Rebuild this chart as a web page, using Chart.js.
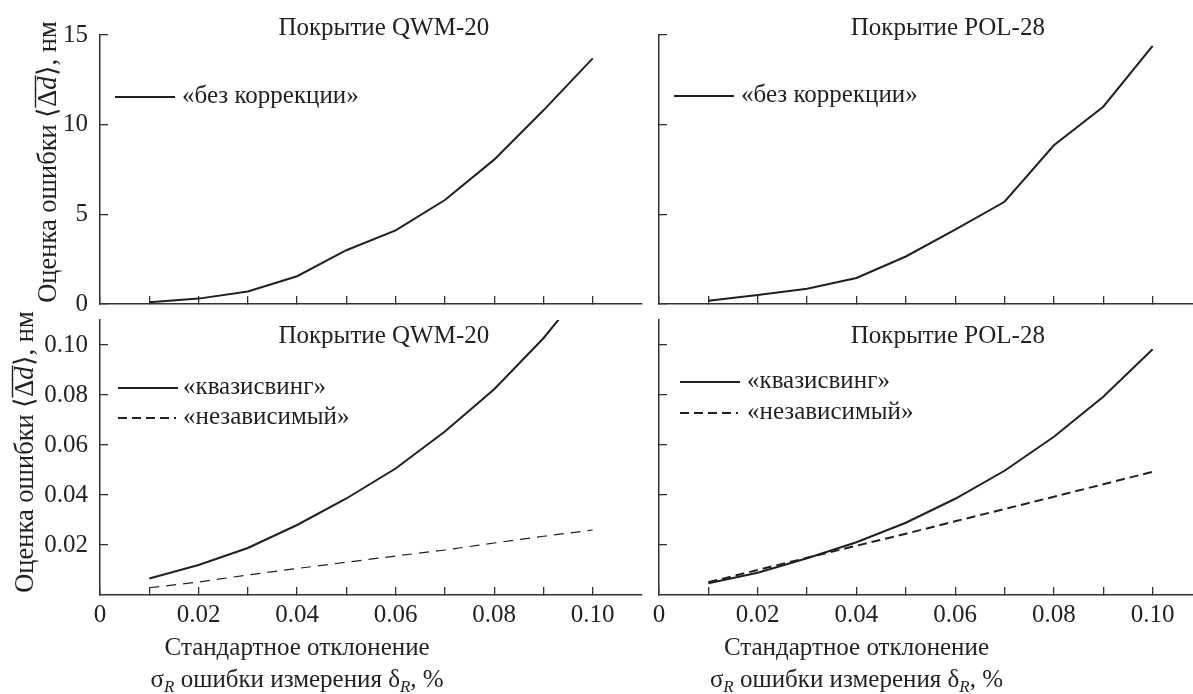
<!DOCTYPE html>
<html>
<head>
<meta charset="utf-8">
<script src="https://cdn.jsdelivr.net/npm/chart.js@4.4.1/dist/chart.umd.min.js"></script>
<style>
  html, body { margin: 0; padding: 0; background: #fff; overflow: hidden; width: 1193px; height: 694px; }
  canvas { position: absolute; left: 0; top: 0; }
</style>
</head>
<body>
<canvas id="tl" width="1210" height="694"></canvas>
<canvas id="tr" width="1210" height="694"></canvas>
<canvas id="bl" width="1210" height="694"></canvas>
<canvas id="br" width="1210" height="694"></canvas>
<script>
// --- dati ---
const sigma = [0.01, 0.02, 0.03, 0.04, 0.05, 0.06, 0.07, 0.08, 0.09, 0.10];

const qwmNoCorr = [0.1, 0.3, 0.7, 1.55, 3.0, 4.1, 5.8, 8.05, 10.8, 13.7];
const polNoCorr = [0.18, 0.5, 0.85, 1.45, 2.65, 4.15, 5.7, 8.85, 11.0, 14.4];

const qwmQuasi = [0.0066, 0.0120, 0.0188, 0.0280, 0.0386, 0.0506, 0.0654, 0.0823, 0.1027, 0.1270];
const qwmIndep = [0.0029, 0.0052, 0.0080, 0.0106, 0.0131, 0.0156, 0.0180, 0.0208, 0.0235, 0.0260];
const polQuasi = [0.0047, 0.0089, 0.0147, 0.0211, 0.0289, 0.0385, 0.0497, 0.0633, 0.0793, 0.0983];
const polIndep = [0.0051, 0.0100, 0.0149, 0.0197, 0.0245, 0.0295, 0.0344, 0.0393, 0.0443, 0.0493];

const xTickValues = [0, 0.01, 0.02, 0.03, 0.04, 0.05, 0.06, 0.07, 0.08, 0.09, 0.10];
const xTickLabels = ['0', '', '0.02', '', '0.04', '', '0.06', '', '0.08', '', '0.10'];
const yTopTicks = [0, 5, 10, 15];
const yTopLabels = ['0', '5', '10', '15'];
const yBotTicks = [0.02, 0.04, 0.06, 0.08, 0.10];
const yBotLabels = ['0.02', '0.04', '0.06', '0.08', '0.10'];

const INK = '#231f20';
const FAMILY = "'Liberation Serif', 'Times New Roman', serif";
const SIZE = 25;
const W = 1210, H = 694;

// testo con corsivo / pedici / sopralineato
function drawRuns(ctx, runs, x, y, size) {
    const fontFor = r => (r.italic ? 'italic ' : '') + (r.sub ? Math.round(size * 0.68) : size) + 'px ' + FAMILY;
    let total = 0;
    runs.forEach(r => { ctx.font = fontFor(r); r.w = ctx.measureText(r.t).width; total += r.w; });
    let cx = x - total / 2;
    ctx.textAlign = 'left';
    ctx.textBaseline = 'alphabetic';
    runs.forEach(r => {
        ctx.font = fontFor(r);
        ctx.fillText(r.t, cx, y + (r.sub ? size * 0.2 : 0));
        if (r.over) ctx.fillRect(cx - 1, y - size * 0.8, r.w + 2, 1.4);
        cx += r.w;
    });
}

const yTitleRuns = [
    {t: 'Оценка ошибки '}, {t: '⟨'}, {t: 'Δ', over: true}, {t: 'd', italic: true, over: true}, {t: '⟩, нм'}
];
const xTitleLine1 = [{t: 'Стандартное отклонение'}];
const xTitleLine2 = [
    {t: 'σ'}, {t: 'R', italic: true, sub: true}, {t: ' ошибки измерения δ'}, {t: 'R', italic: true, sub: true}, {t: ', %'}
];

const panelDecor = {
    id: 'panelDecor',
    afterDraw(chart, args, o) {
        const ctx = chart.ctx;
        const xs = chart.scales.x;
        ctx.save();
        ctx.fillStyle = INK;
        ctx.strokeStyle = INK;
        ctx.font = SIZE + 'px ' + FAMILY;
        ctx.textAlign = 'center';
        ctx.textBaseline = 'alphabetic';
        ctx.fillText(o.title, xs.getPixelForValue(o.titleAt), o.titleY);

        // legenda
        o.legend.forEach((row, i) => {
            const ds = chart.data.datasets[i];
            ctx.beginPath();
            ctx.lineWidth = 2;
            ctx.setLineDash(ds.legendDash || []);
            ctx.moveTo(row.x0, row.y);
            ctx.lineTo(row.x1, row.y);
            ctx.stroke();
            ctx.setLineDash([]);
            ctx.font = SIZE + 'px ' + FAMILY;
            ctx.textAlign = 'left';
            ctx.fillText(ds.label, o.textX, row.y + 6);
        });

        if (o.yTitle) {
            ctx.save();
            ctx.translate(o.yTitle.x, o.yTitle.cy);
            ctx.rotate(-Math.PI / 2);
            drawRuns(ctx, yTitleRuns, 0, 0, 26.5);
            ctx.restore();
        }
        if (o.xTitle) {
            const cx = xs.getPixelForValue(o.xTitle.at);
            drawRuns(ctx, xTitleLine1, cx, o.xTitle.y1, SIZE);
            drawRuns(ctx, xTitleLine2, cx, o.xTitle.y2, SIZE);
        }
        ctx.restore();
    }
};

function makePanel(id, p) {
    const ctx = document.getElementById(id).getContext('2d');
    return new Chart(ctx, {
        type: 'line',
        data: {
            datasets: p.series.map(s => ({
                label: s.label,
                data: sigma.map((x, i) => ({x: x, y: s.values[i]})),
                borderColor: INK,
                borderWidth: s.width,
                borderDash: s.dash || [],
                legendDash: s.legendDash,
                pointRadius: 0,
                fill: false,
                tension: 0
            }))
        },
        options: {
            responsive: false,
            animation: false,
            events: [],
            layout: {
                padding: {left: 0, top: p.area.top, right: W - p.area.right, bottom: 0}
            },
            plugins: {
                legend: {display: false},
                tooltip: {enabled: false},
                panelDecor: p.decor
            },
            scales: {
                x: {
                    type: 'linear',
                    min: 0,
                    max: 0.11,
                    afterBuildTicks: axis => { axis.ticks = xTickValues.map(v => ({value: v})); },
                    afterFit: s => { s.height = H - p.area.bottom; },
                    border: {display: true, color: '#333', width: 1.5},
                    grid: {drawOnChartArea: false, drawTicks: true, tickLength: -8, color: '#333', lineWidth: 1.3},
                    ticks: {
                        autoSkip: false,
                        maxRotation: 0,
                        padding: 13,
                        color: INK,
                        font: {family: FAMILY, size: SIZE},
                        callback: (v, i) => p.showX ? xTickLabels[i] : ''
                    }
                },
                y: {
                    type: 'linear',
                    min: 0,
                    max: p.yMax,
                    afterBuildTicks: axis => { axis.ticks = p.yTicks.map(v => ({value: v})); },
                    afterFit: s => { s.width = p.area.left; },
                    border: {display: true, color: '#333', width: 1.5},
                    grid: {drawOnChartArea: false, drawTicks: true, tickLength: -8, color: '#333', lineWidth: 1.3},
                    ticks: {
                        autoSkip: false,
                        padding: 20,
                        color: INK,
                        font: {family: FAMILY, size: SIZE},
                        callback: (v, i) => p.showY ? p.yLabels[i] : ''
                    }
                }
            }
        },
        plugins: [panelDecor]
    });
}

makePanel('tl', {
    area: {left: 100, top: 29, right: 642, bottom: 304},
    yMax: 15, yTicks: yTopTicks, yLabels: yTopLabels, showY: true, showX: false,
    series: [{label: '«без коррекции»', values: qwmNoCorr, width: 2}],
    decor: {
        title: 'Покрытие QWM-20', titleAt: 0.0576, titleY: 35,
        legend: [{x0: 115, x1: 175, y: 97}], textX: 182,
        yTitle: {x: 56, cy: 162}
    }
});

makePanel('tr', {
    area: {left: 659, top: 29, right: 1202, bottom: 304},
    yMax: 15, yTicks: yTopTicks, yLabels: yTopLabels, showY: false, showX: false,
    series: [{label: '«без коррекции»', values: polNoCorr, width: 2}],
    decor: {
        title: 'Покрытие POL-28', titleAt: 0.0585, titleY: 35,
        legend: [{x0: 674, x1: 734, y: 96}], textX: 741
    }
});

makePanel('bl', {
    area: {left: 100, top: 320, right: 642, bottom: 595},
    yMax: 0.11, yTicks: yBotTicks, yLabels: yBotLabels, showY: true, showX: true,
    series: [
        {label: '«квазисвинг»', values: qwmQuasi, width: 2},
        {label: '«независимый»', values: qwmIndep, width: 1.2, dash: [10, 7], legendDash: [9, 5]}
    ],
    decor: {
        title: 'Покрытие QWM-20', titleAt: 0.0576, titleY: 343,
        legend: [{x0: 118, x1: 178, y: 388}, {x0: 118, x1: 176, y: 418}], textX: 183,
        yTitle: {x: 33, cy: 452},
        xTitle: {at: 0.04, y1: 655, y2: 687}
    }
});

makePanel('br', {
    area: {left: 659, top: 320, right: 1202, bottom: 595},
    yMax: 0.11, yTicks: yBotTicks, yLabels: yBotLabels, showY: false, showX: true,
    series: [
        {label: '«квазисвинг»', values: polQuasi, width: 2},
        {label: '«независимый»', values: polIndep, width: 2, dash: [9, 5], legendDash: [9, 5]}
    ],
    decor: {
        title: 'Покрытие POL-28', titleAt: 0.0585, titleY: 343,
        legend: [{x0: 680, x1: 740, y: 382}, {x0: 680, x1: 738, y: 413}], textX: 747,
        xTitle: {at: 0.04, y1: 655, y2: 687}
    }
});
</script>
</body>
</html>
